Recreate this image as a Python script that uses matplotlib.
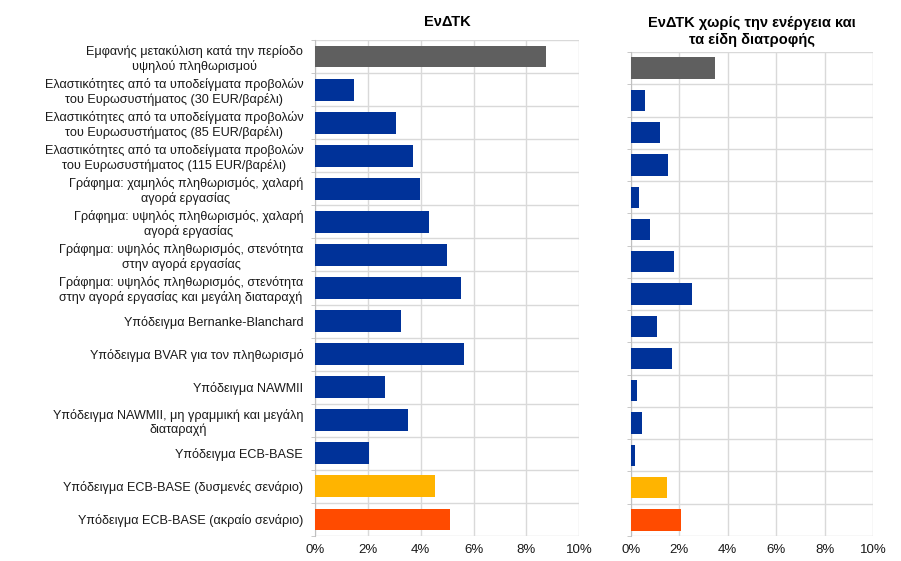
import matplotlib
matplotlib.use("Agg")
import matplotlib.pyplot as plt
import numpy as np

plt.rcParams['font.family'] = ['Liberation Sans', 'DejaVu Sans']

labels = [
    "Εμφανής μετακύλιση κατά την περίοδο\nυψηλού πληθωρισμού",
    "Ελαστικότητες από τα υποδείγματα προβολών\nτου Ευρωσυστήματος (30 EUR/βαρέλι)",
    "Ελαστικότητες από τα υποδείγματα προβολών\nτου Ευρωσυστήματος (85 EUR/βαρέλι)",
    "Ελαστικότητες από τα υποδείγματα προβολών\nτου Ευρωσυστήματος (115 EUR/βαρέλι)",
    "Γράφημα: χαμηλός πληθωρισμός, χαλαρή\nαγορά εργασίας",
    "Γράφημα: υψηλός πληθωρισμός, χαλαρή\nαγορά εργασίας",
    "Γράφημα: υψηλός πληθωρισμός, στενότητα\nστην αγορά εργασίας",
    "Γράφημα: υψηλός πληθωρισμός, στενότητα\nστην αγορά εργασίας και μεγάλη διαταραχή",
    "Υπόδειγμα Bernanke-Blanchard",
    "Υπόδειγμα BVAR για τον πληθωρισμό",
    "Υπόδειγμα NAWMII",
    "Υπόδειγμα NAWMII, μη γραμμική και μεγάλη\nδιαταραχή",
    "Υπόδειγμα ECB-BASE",
    "Υπόδειγμα ECB-BASE (δυσμενές σενάριο)",
    "Υπόδειγμα ECB-BASE (ακραίο σενάριο)",
]

hicp = [8.74, 1.48, 3.06, 3.71, 3.97, 4.31, 4.99, 5.52, 3.25, 5.64, 2.65, 3.52, 2.04, 4.54, 5.11]
hicp_core = [3.48, 0.59, 1.21, 1.54, 0.34, 0.80, 1.78, 2.53, 1.08, 1.70, 0.26, 0.47, 0.18, 1.50, 2.07]

colors = ["#5f5f5f"] + ["#003299"] * 12 + ["#ffb400", "#ff4b00"]
xticks = [0, 2, 4, 6, 8, 10]

fig = plt.figure(figsize=(9.01, 5.61), dpi=100)
ax1 = fig.add_axes([315 / 901, 25 / 561, 264.3 / 901, 496 / 561])
ax2 = fig.add_axes([630.7 / 901, 25 / 561, 242.6 / 901, 484 / 561])

y = np.arange(len(labels))

for ax, vals in [(ax1, hicp), (ax2, hicp_core)]:
    ax.barh(y, vals, height=0.66, color=colors, zorder=3)
    ax.set_xlim(0, 10)
    ax.set_ylim(len(labels) - 0.5, -0.5)
    ax.set_xticks(xticks)
    ax.set_xticklabels([f"{v}%" for v in xticks], fontsize=9.5, color="#1a1a1a")
    ax.set_yticks(y)
    ax.set_yticks(np.arange(len(labels) + 1) - 0.5, minor=True)
    ax.tick_params(axis="y", which="major", length=0)
    ax.tick_params(axis="y", which="minor", length=3, color="#bfbfbf")
    ax.tick_params(axis="x", length=0, pad=6)
    ax.grid(axis="x", which="major", color="#d9d9d9", linewidth=1, zorder=0)
    ax.grid(axis="y", which="minor", color="#d9d9d9", linewidth=1, zorder=0)
    for s in ["top", "right", "bottom"]:
        ax.spines[s].set_visible(False)
    ax.spines["left"].set_color("#bfbfbf")

ax1.set_yticklabels(labels, fontsize=9.1, color="#1a1a1a", multialignment="center")
ax1.tick_params(axis="y", which="major", pad=8.5)
ax2.set_yticklabels([])

ax1.set_title("ΕνΔΤΚ", fontsize=10.5, fontweight="bold", pad=10)
ax2.set_title("ΕνΔΤΚ χωρίς την ενέργεια και\nτα είδη διατροφής", fontsize=10.5,
              fontweight="bold", pad=6, linespacing=1.25)

fig.savefig("out.png", dpi=100)
